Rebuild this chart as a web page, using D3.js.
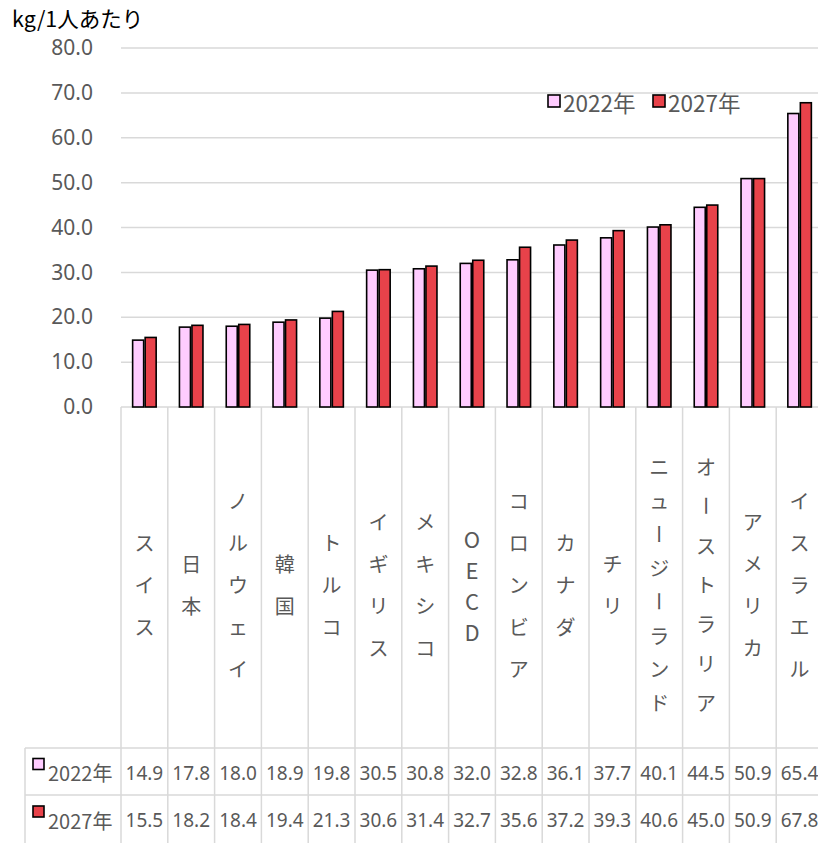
<!DOCTYPE html>
<html>
<head>
<meta charset="utf-8">
<script src="https://cdn.jsdelivr.net/npm/d3@7"></script>
<style>
  body { margin: 0; background: #fff; }
  svg { display: block; }
</style>
</head>
<body>
<div id="chart"></div>
<script>
// data
const countries = ["スイス", "日本", "ノルウェイ", "韓国", "トルコ", "イギリス", "メキシコ", "OECD",
  "コロンビア", "カナダ", "チリ", "ニュージーランド", "オーストラリア", "アメリカ", "イスラエル"]
const values2022 = [14.9, 17.8, 18.0, 18.9, 19.8, 30.5, 30.8, 32.0, 32.8, 36.1, 37.7, 40.1, 44.5, 50.9, 65.4]
const values2027 = [15.5, 18.2, 18.4, 19.4, 21.3, 30.6, 31.4, 32.7, 35.6, 37.2, 39.3, 40.6, 45.0, 50.9, 67.8]
const seriesNames = ["2022年", "2027年"]
const yTicks = [0, 10, 20, 30, 40, 50, 60, 70, 80]
const unitLabel = "kg/1人あたり"

const W = 818, H = 843
const PLOT = { LEFT: 121, RIGHT: 823, TOP: 48, BOTTOM: 407 }
const TABLE = { LEFT: 25, ROW1: 748, ROW2: 795, BOTTOM: 843 }
const COLORS = ["#FFCCFF", "#E8424A"]
const GRID = "#D9D9D9"
const TXT = "#595959"
const FONT = "'Noto Sans', 'Noto Sans CJK JP', sans-serif"
const JFONT = "'Noto Sans CJK JP', 'Noto Sans', sans-serif"

const svg = d3.select("#chart").append("svg")
  .attr("width", W)
  .attr("height", H)

const x = d3.scaleBand()
  .domain(countries)
  .range([PLOT.LEFT, PLOT.RIGHT])

const xSub = d3.scaleBand()
  .domain(seriesNames)
  .range([0, x.bandwidth()])
  .paddingInner(0.12)
  .paddingOuter(0.93)

const y = d3.scaleLinear()
  .domain([0, 80])
  .range([PLOT.BOTTOM, PLOT.TOP])

// gridlines
svg.append("g")
  .selectAll("line")
  .data(yTicks)
  .enter().append("line")
    .attr("x1", PLOT.LEFT)
    .attr("x2", W)
    .attr("y1", d => y(d))
    .attr("y2", d => y(d))
    .attr("stroke", GRID)
    .attr("stroke-width", 1.5)

// y axis labels
const yAxisCall = d3.axisLeft(y)
  .tickValues(yTicks)
  .tickFormat(d3.format(".1f"))
  .tickSize(0)
  .tickPadding(0)
const yAxis = svg.append("g")
  .attr("transform", `translate(93, 0)`)
  .call(yAxisCall)
yAxis.select(".domain").remove()
yAxis.selectAll("text")
  .attr("fill", TXT)
  .attr("font-size", "21px")
  .attr("font-family", FONT)

svg.append("text")
  .attr("x", 12)
  .attr("y", 27)
  .attr("font-size", "21.5px")
  .attr("font-family", JFONT)
  .attr("fill", "#000")
  .text(unitLabel)

// bars
const series = [values2022, values2027]
series.forEach((vals, si) => {
  svg.append("g")
    .selectAll("rect")
    .data(countries)
    .enter().append("rect")
      .attr("x", (d) => x(d) + xSub(seriesNames[si]))
      .attr("y", (d, i) => y(vals[i]))
      .attr("width", xSub.bandwidth())
      .attr("height", (d, i) => y(0) - y(vals[i]))
      .attr("fill", COLORS[si])
      .attr("stroke", "#000")
      .attr("stroke-width", 1.6)
})

// category table (vertical lines)
const edges = countries.map(c => x(c)).concat([x(countries[countries.length - 1]) + x.bandwidth()])
svg.append("g")
  .selectAll("line")
  .data(edges)
  .enter().append("line")
    .attr("x1", d => d)
    .attr("x2", d => d)
    .attr("y1", PLOT.BOTTOM)
    .attr("y2", TABLE.BOTTOM)
    .attr("stroke", GRID)
    .attr("stroke-width", 1.5)

// table horizontal lines + left edge
;[TABLE.ROW1, TABLE.ROW2].forEach(yy => {
  svg.append("line")
    .attr("x1", TABLE.LEFT).attr("x2", W)
    .attr("y1", yy).attr("y2", yy)
    .attr("stroke", GRID).attr("stroke-width", 1.5)
})
svg.append("line")
  .attr("x1", TABLE.LEFT).attr("x2", TABLE.LEFT)
  .attr("y1", TABLE.ROW1).attr("y2", TABLE.BOTTOM)
  .attr("stroke", GRID).attr("stroke-width", 1.5)

// vertical category labels
const labelMid = (PLOT.BOTTOM + TABLE.ROW1) / 2 + 7
countries.forEach(c => {
  const chars = Array.from(c)
  const latin = /^[A-Za-z]+$/.test(c)
  const n = chars.length
  const step = latin ? 31 : Math.min(42, 236 / Math.max(1, n - 1))
  const top = labelMid - step * (n - 1) / 2
  const cx = x(c) + x.bandwidth() / 2
  const g = svg.append("g")
  chars.forEach((ch, k) => {
    g.append("text")
      .attr("x", cx)
      .attr("y", top + k * step)
      .attr("text-anchor", "middle")
      .attr("dominant-baseline", "central")
      .attr("font-size", latin ? "22px" : "20px")
      .attr("font-family", JFONT)
      .attr("fill", TXT)
      .attr("transform", (ch === "ー") ? `rotate(90, ${cx}, ${top + k * step})` : null)
      .text(ch)
  })
})

// data rows
const rowY = [(TABLE.ROW1 + TABLE.ROW2) / 2, (TABLE.ROW2 + TABLE.BOTTOM) / 2]
series.forEach((vals, si) => {
  svg.append("rect")
    .attr("x", 33).attr("y", rowY[si] - 13)
    .attr("width", 11).attr("height", 11)
    .attr("fill", COLORS[si])
    .attr("stroke", "#000")
    .attr("stroke-width", 1.6)
  svg.append("text")
    .attr("x", 48).attr("y", rowY[si] + 1)
    .attr("dominant-baseline", "central")
    .attr("font-size", "20px")
    .attr("font-family", JFONT)
    .attr("fill", TXT)
    .text(seriesNames[si])
  svg.append("g")
    .selectAll("text")
    .data(countries)
    .enter().append("text")
      .attr("x", d => x(d) + x.bandwidth() / 2)
      .attr("y", rowY[si] + 1)
      .attr("text-anchor", "middle")
      .attr("dominant-baseline", "central")
      .attr("font-size", "19px")
      .attr("font-family", FONT)
      .attr("fill", TXT)
      .text((d, i) => vals[i].toFixed(1))
})

// legend
const legendX = [548, 653]
seriesNames.forEach((s, si) => {
  svg.append("rect")
    .attr("x", legendX[si]).attr("y", 95)
    .attr("width", 12).attr("height", 12)
    .attr("fill", COLORS[si])
    .attr("stroke", "#000")
    .attr("stroke-width", 1.6)
  svg.append("text")
    .attr("x", legendX[si] + 15).attr("y", 102)
    .attr("dominant-baseline", "central")
    .attr("font-size", "22.5px")
    .attr("font-family", JFONT)
    .attr("fill", TXT)
    .text(s)
})
</script>
</body>
</html>
